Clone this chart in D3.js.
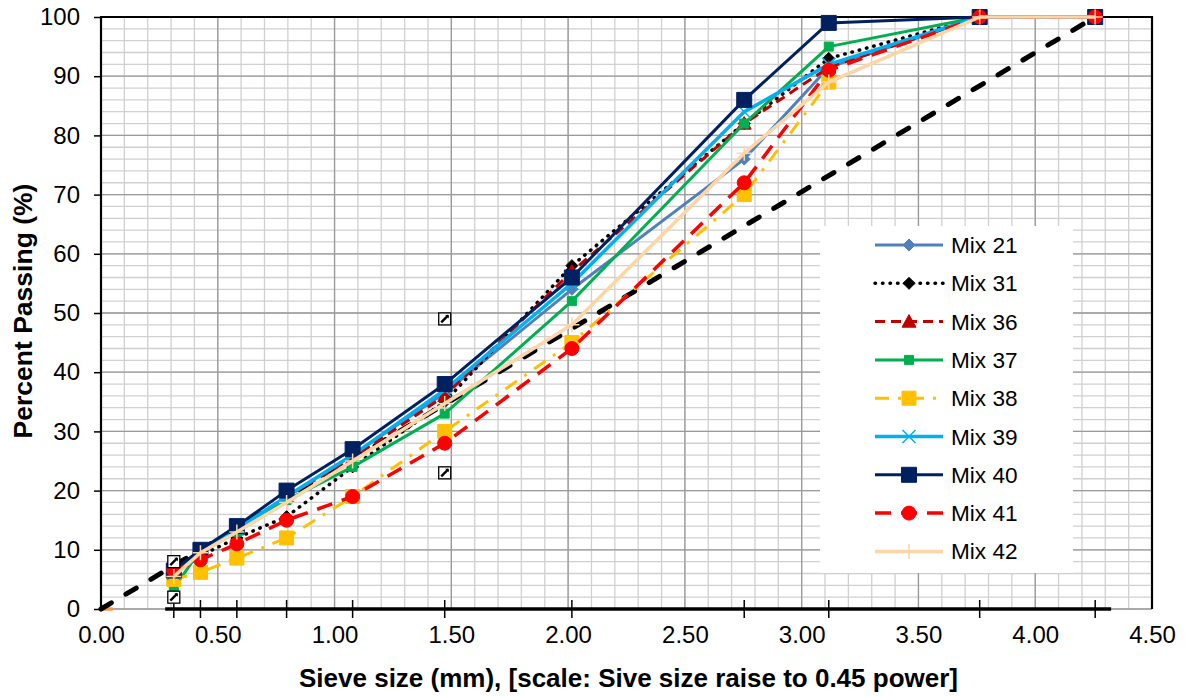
<!DOCTYPE html>
<html>
<head>
<meta charset="utf-8">
<script src="https://cdn.jsdelivr.net/npm/d3@7"></script>
<style>
html,body{margin:0;padding:0;background:#fff;}
svg{display:block;font-family:"Liberation Sans",Arial,sans-serif;}
</style>
</head>
<body>
<svg id="chart" width="1185" height="696"></svg>
<script>
// ---- data ----
const sieveSizes = [0.075, 0.15, 0.3, 0.6, 1.18, 2.36, 4.75, 9.5, 12.5, 19, 25];
const xTickLabels = ["0.00","0.50","1.00","1.50","2.00","2.50","3.00","3.50","4.00","4.50"];
const xTickValues = [0, 0.5, 1, 1.5, 2, 2.5, 3, 3.5, 4, 4.5];
const yTickValues = [0, 10, 20, 30, 40, 50, 60, 70, 80, 90, 100];

const mixNames = ["Mix 21","Mix 31","Mix 36","Mix 37","Mix 38","Mix 39","Mix 40","Mix 41","Mix 42"];
const mix21 = [5.5, 9.5, 13, 19, 26, 36.5, 54, 76, 91.5, 100, 100];
const mix31 = [6, 9, 12, 15.6, 24, 35, 58, 82, 93, 100, 100];
const mix36 = [6, 10, 13.5, 19, 25.5, 36, 57, 82, 91.5, 100, 100];
const mix37 = [3.5, 10, 13, 18.4, 24, 33, 52, 82, 95, 100, 100];
const mix38 = [5, 6.2, 8.6, 12, 19, 30, 45, 70, 89, 100, 100];
const mix39 = [6, 10, 13.5, 19, 26, 37, 55, 84, 92, 100, 100];
const mix40 = [6.5, 10, 14, 20, 27, 38, 56, 86, 99, 100, 100];
const mix41 = [6.5, 8.3, 11, 15, 19, 28, 44, 72, 91, 100, 100];
const mix42 = [5.5, 9.5, 13, 18, 25, 34.7, 48, 77, 89, 100, 100];
const mixValues = [mix21, mix31, mix36, mix37, mix38, mix39, mix40, mix41, mix42];

const maxDensitySizes = [0, 25];
const maxDensityValues = [0, 100];
const controlSizes = [0.075, 0.075, 2.36, 2.36];
const controlValues = [2, 8, 23, 49];
const baseSizes = [0.0567, 25.9];   // the thick line along 0 %
const originSizes = [0, 0.0013];    // short orange stub at origin

// ---- styles ----
const styles = [
  {color:"#4F81BD", width:3,   dash:null,        cap:"butt",  marker:"diamond", size:12, fill:"#4F81BD"},
  {color:"#000000", width:3.5, dash:"0.5,7",     cap:"round", marker:"diamond", size:12, fill:"#000000"},
  {color:"#C00000", width:3,   dash:"10,6",      cap:"butt",  marker:"triangle",size:14, fill:"#C00000"},
  {color:"#00B050", width:3,   dash:null,        cap:"butt",  marker:"square",  size:9,  fill:"#00B050"},
  {color:"#FFC000", width:3,   dash:"14,9,3,9",  cap:"butt",  marker:"square",  size:14, fill:"#FFC000"},
  {color:"#00B0F0", width:3.5, dash:null,        cap:"butt",  marker:"x",       size:13, fill:"none"},
  {color:"#002060", width:3,   dash:null,        cap:"butt",  marker:"square",  size:15, fill:"#002060"},
  {color:"#FF0000", width:3.5, dash:"16,10",     cap:"butt",  marker:"circle",  size:14, fill:"#FF0000"},
  {color:"#FCD5A8", width:3.5, dash:null,        cap:"butt",  marker:"plus",    size:15, fill:"none"}
];

const svg = d3.select("#chart");
const M = {left:101, right:1152, top:17, bottom:609};
const x = d3.scaleLinear().domain([0, 4.5]).range([M.left, M.right]);
const y = d3.scaleLinear().domain([0, 100]).range([M.bottom, M.top]);
const pw = s => Math.pow(s, 0.45);

// ---- grid ----
const grid = svg.append("g");
grid.selectAll(".vmin").data(d3.range(0, 4.5001, 0.1)).join("line")
  .attr("x1", d => x(d)).attr("x2", d => x(d)).attr("y1", M.top).attr("y2", M.bottom)
  .attr("stroke", "#D0D0D0").attr("stroke-width", 1.3);
grid.selectAll(".hmin").data(d3.range(0, 100.001, 2)).join("line")
  .attr("x1", M.left).attr("x2", M.right).attr("y1", d => y(d)).attr("y2", d => y(d))
  .attr("stroke", "#D0D0D0").attr("stroke-width", 1.3);
grid.selectAll(".vmaj").data(xTickValues).join("line")
  .attr("x1", d => x(d)).attr("x2", d => x(d)).attr("y1", M.top).attr("y2", M.bottom)
  .attr("stroke", "#9A9A9A").attr("stroke-width", 1.3);
grid.selectAll(".hmaj").data(yTickValues).join("line")
  .attr("x1", M.left).attr("x2", M.right).attr("y1", d => y(d)).attr("y2", d => y(d))
  .attr("stroke", "#9A9A9A").attr("stroke-width", 1.3);

// border (top, left, right)
svg.append("path")
  .attr("d", `M${M.left},${M.bottom} V${M.top} H${M.right} V${M.bottom}`)
  .attr("fill", "none").attr("stroke", "#000").attr("stroke-width", 2.2);

// ---- axes ----
const yAxis = d3.axisLeft(y).tickValues(yTickValues).tickSize(7).tickPadding(14);
const gy = svg.append("g").attr("transform", `translate(${M.left},0)`).call(yAxis);
gy.select(".domain").remove();
gy.selectAll(".tick line").attr("stroke", "#000").attr("stroke-width", 1.5);
gy.selectAll(".tick text").attr("font-size", 24).attr("fill", "#000")
  .attr("font-family", '"Liberation Sans",Arial,sans-serif');

const xAxis = d3.axisBottom(x).tickValues(xTickValues)
  .tickFormat((d, i) => xTickLabels[i]).tickSize(0).tickPadding(17);
const gx = svg.append("g").attr("transform", `translate(0,${M.bottom})`).call(xAxis);
gx.select(".domain").remove();
gx.selectAll(".tick text").attr("font-size", 24).attr("fill", "#000")
  .attr("font-family", '"Liberation Sans",Arial,sans-serif');

// thick base line + sieve ticks
svg.append("line")
  .attr("x1", x(pw(baseSizes[0]))).attr("x2", x(pw(baseSizes[1])))
  .attr("y1", y(0)).attr("y2", y(0)).attr("stroke", "#000").attr("stroke-width", 3.5);
svg.append("line")
  .attr("x1", x(pw(originSizes[0]))).attr("x2", x(pw(originSizes[1])))
  .attr("y1", y(0)).attr("y2", y(0)).attr("stroke", "#F79646").attr("stroke-width", 3.5);
svg.append("g").selectAll("line").data(sieveSizes).join("line")
  .attr("x1", d => x(pw(d))).attr("x2", d => x(pw(d)))
  .attr("y1", y(0) - 9).attr("y2", y(0) + 9)
  .attr("stroke", "#000").attr("stroke-width", 1.5);

// ---- titles ----
svg.append("text").attr("x", (M.left + M.right) / 2 + 2).attr("y", 687)
  .attr("text-anchor", "middle").attr("font-size", 26).attr("font-weight", "bold")
  .text("Sieve size (mm), [scale: Sive size raise to 0.45 power]");
svg.append("text")
  .attr("transform", `translate(32,${(M.top + M.bottom) / 2 - 2}) rotate(-90)`)
  .attr("text-anchor", "middle").attr("font-size", 26.5).attr("font-weight", "bold")
  .text("Percent Passing (%)");

// ---- maximum density line ----
const line = d3.line().x(d => x(d[0])).y(d => y(d[1]));
svg.append("path")
  .attr("d", line(maxDensitySizes.map((s, i) => [pw(s), maxDensityValues[i]])))
  .attr("fill", "none").attr("stroke", "#000").attr("stroke-width", 5)
  .attr("stroke-dasharray", "12,17").attr("stroke-linecap", "round");

// ---- markers ----
function markerPath(type, s) {
  const h = s / 2;
  switch (type) {
    case "diamond": return `M0,${-h} L${h},0 L0,${h} L${-h},0 Z`;
    case "square": return `M${-h},${-h} H${h} V${h} H${-h} Z`;
    case "triangle": return `M0,${-h} L${h},${h * 0.8} L${-h},${h * 0.8} Z`;
    case "circle": return d3.arc()({innerRadius: 0, outerRadius: h, startAngle: 0, endAngle: 2 * Math.PI});
    case "x": return `M${-h},${-h} L${h},${h} M${-h},${h} L${h},${-h}`;
    case "plus": return `M${-h},0 H${h} M0,${-h} V${h}`;
  }
}
function drawMarker(g, st, cx, cy) {
  const stroked = st.marker === "x" || st.marker === "plus";
  g.append("path").attr("transform", `translate(${cx},${cy})`)
    .attr("d", markerPath(st.marker, st.size))
    .attr("fill", stroked ? "none" : st.fill)
    .attr("stroke", stroked ? st.color : st.fill)
    .attr("stroke-width", stroked ? 1.5 : 1);
}

// ---- series ----
mixValues.forEach((vals, i) => {
  const st = styles[i];
  const pts = sieveSizes.map((s, j) => [pw(s), vals[j]]);
  const g = svg.append("g");
  g.append("path").attr("d", line(pts)).attr("fill", "none")
    .attr("stroke", st.color).attr("stroke-width", st.width)
    .attr("stroke-dasharray", st.dash).attr("stroke-linecap", st.cap)
    .attr("stroke-linejoin", "round");
  pts.forEach(p => drawMarker(g, st, x(p[0]), y(p[1])));
});

// ---- control points ----
const cg = svg.append("g");
controlSizes.forEach((s, i) => {
  const cx = x(pw(s)), cy = y(controlValues[i]);
  const gg = cg.append("g").attr("transform", `translate(${cx},${cy})`);
  gg.append("rect").attr("x", -6).attr("y", -6).attr("width", 12).attr("height", 12)
    .attr("fill", "#fff").attr("stroke", "#000").attr("stroke-width", 1.3);
  gg.append("line").attr("x1", -3.5).attr("y1", 3.5).attr("x2", 3.5).attr("y2", -3.5)
    .attr("stroke", "#000").attr("stroke-width", 2.4);
  gg.append("path").attr("d", "M0.5,-4 L4,-4 L4,-0.5 Z").attr("fill", "#000");
});

// ---- legend ----
const lg = svg.append("g");
lg.append("rect").attr("x", 820).attr("y", 226).attr("width", 253).attr("height", 347)
  .attr("fill", "#fff");
mixNames.forEach((name, i) => {
  const st = styles[i];
  const ly = 245 + i * 38.3;
  const g = lg.append("g");
  g.append("line").attr("x1", 875).attr("x2", 943).attr("y1", ly).attr("y2", ly)
    .attr("stroke", st.color).attr("stroke-width", st.width)
    .attr("stroke-dasharray", st.dash).attr("stroke-linecap", st.cap);
  drawMarker(g, st, 909, ly);
  g.append("text").attr("x", 951).attr("y", ly + 8).attr("font-size", 22.6)
    .attr("fill", "#000").text(name);
});
</script>
</body>
</html>
